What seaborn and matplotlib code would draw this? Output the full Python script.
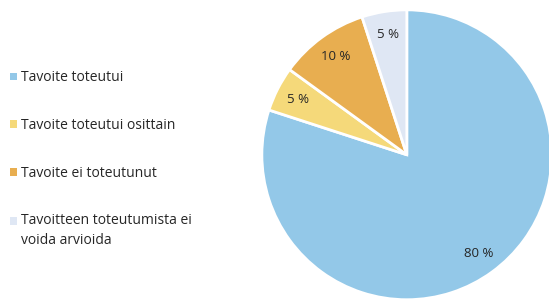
import matplotlib
matplotlib.use("Agg")
import matplotlib.pyplot as plt
from matplotlib.patches import Patch
import seaborn as sns

categories = [
    "Tavoite toteutui",
    "Tavoite toteutui osittain",
    "Tavoite ei toteutunut",
    "Tavoitteen toteutumista ei\nvoida arvioida",
]
shares = [80, 5, 10, 5]
colors = ["#93c8e8", "#f5d97a", "#e8ae50", "#dfe7f4"]

sns.set_theme(style="white")
plt.rcParams["font.family"] = ["Open Sans", "DejaVu Sans"]

fig = plt.figure(figsize=(5.49, 3.05), dpi=100)
ax = fig.add_axes([0.477, 0.017, 0.528, 0.951])
ax.pie(
    shares,
    colors=colors,
    startangle=90,
    counterclock=False,
    autopct=lambda p: f"{p:.0f} %",
    pctdistance=0.84,
    wedgeprops={"edgecolor": "white", "linewidth": 2},
    textprops={"fontsize": 9.5, "color": "#262626"},
)
ax.set_xlim(-1.0, 1.0)
ax.set_ylim(-1.0, 1.0)
ax.set_aspect("equal")

handles = [Patch(facecolor=c, edgecolor="none") for c in colors]
leg = fig.legend(
    handles,
    categories,
    loc="upper left",
    bbox_to_anchor=(-0.005, 0.81),
    frameon=False,
    fontsize=10,
    handlelength=0.5,
    handleheight=0.5,
    handletextpad=0.3,
    labelspacing=2.35,
    labelcolor="#262626",
)
leg.get_texts()[-1].set_linespacing(1.4)
# keep the last marker next to the first line of its two-line label
last = leg.legend_handles[-1]
last.set_y(last.get_y() + 7)

fig.savefig("out.png", dpi=100)
